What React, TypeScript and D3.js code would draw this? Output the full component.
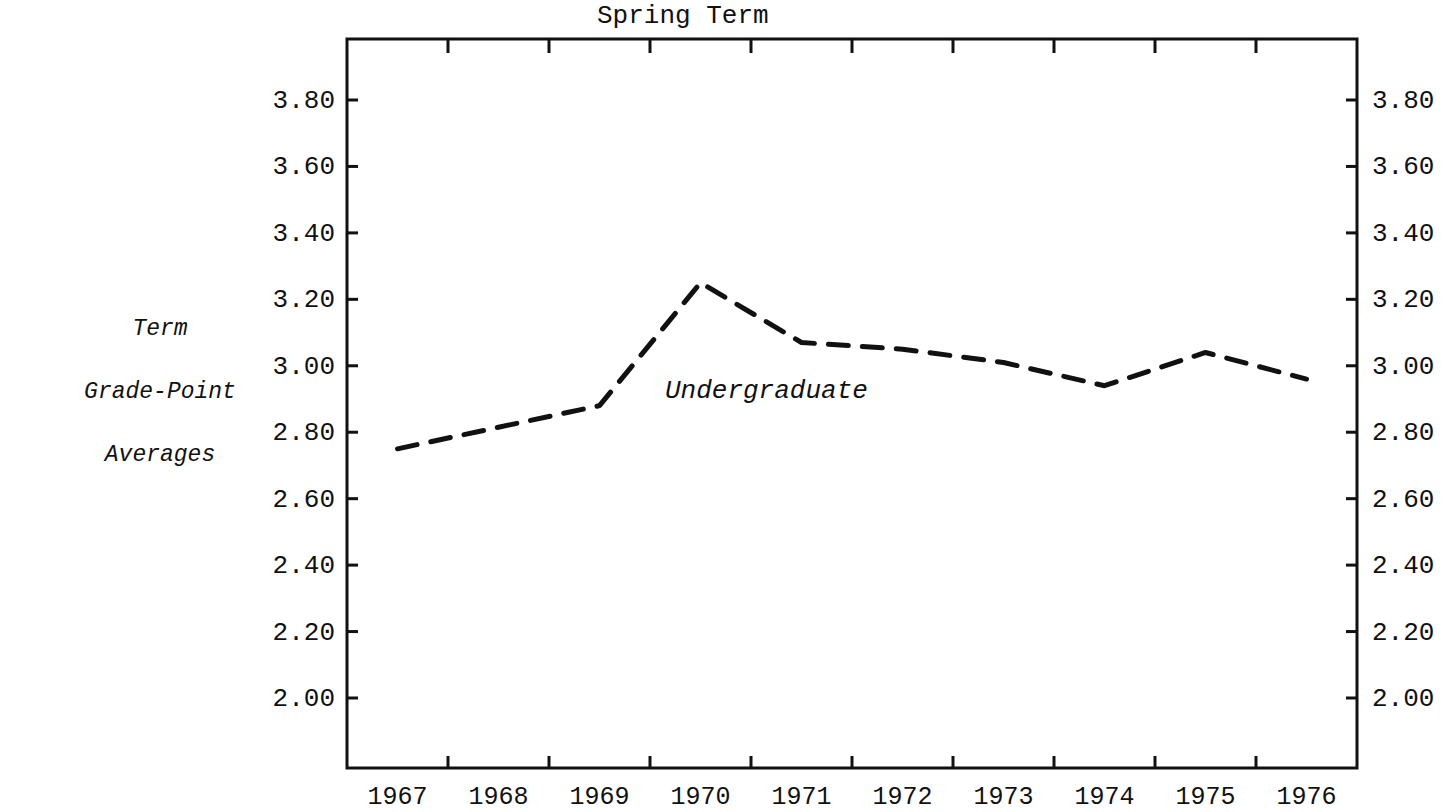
import React from 'react';
import * as d3 from 'd3';

// Spring term undergraduate grade-point averages, 1967-1976
const years = ['1967', '1968', '1969', '1970', '1971', '1972', '1973', '1974', '1975', '1976'];
const gpa = [2.75, 2.815, 2.88, 3.25, 3.07, 3.05, 3.01, 2.94, 3.04, 2.96];
const yTicks = [2.0, 2.2, 2.4, 2.6, 2.8, 3.0, 3.2, 3.4, 3.6, 3.8];
const title = 'Spring Term';
const yTitle = ['Term', 'Grade-Point', 'Averages'];
const seriesLabel = 'Undergraduate';

const W = 1455;
const H = 812;
const frame = { left: 347, right: 1357, top: 39, bottom: 768 };
const ink = '#111';
const mono = '"Liberation Mono", "Courier New", monospace';

export default function App() {
  const x = d3.scaleBand().domain(years).range([frame.left, frame.right]).padding(0);
  const y = d3.scaleLinear().domain([2.0, 3.8]).range([698, 100]);

  const line = d3
    .line<number>()
    .x((d, i) => (x(years[i]) as number) + x.bandwidth() / 2)
    .y(d => y(d));

  // ticks sit on the borders between the year bands
  const xTicks = years.slice(1).map(yr => x(yr) as number);

  return (
    <svg
      width={W}
      height={H}
      viewBox={`0 0 ${W} ${H}`}
      style={{ position: 'absolute', left: 0, top: 0, background: '#fff' }}
    >
      <rect x={0} y={0} width={W} height={H} fill="#fff" />

      <text x={597} y={23} fontFamily={mono} fontSize={26} fill={ink}>
        {title}
      </text>

      {/* frame */}
      <rect
        x={frame.left}
        y={frame.top}
        width={frame.right - frame.left}
        height={frame.bottom - frame.top}
        fill="none"
        stroke={ink}
        strokeWidth={3}
      />

      {xTicks.map((tx, i) => (
        <g key={i} stroke={ink} strokeWidth={3}>
          <line x1={tx} x2={tx} y1={frame.top} y2={frame.top + 14} />
          <line x1={tx} x2={tx} y1={frame.bottom} y2={frame.bottom - 12} />
        </g>
      ))}

      {years.map(yr => (
        <text
          key={yr}
          x={(x(yr) as number) + x.bandwidth() / 2}
          y={804}
          textAnchor="middle"
          fontFamily={mono}
          fontSize={25}
          fill={ink}
        >
          {yr}
        </text>
      ))}

      {yTicks.map(t => (
        <g key={t}>
          <line x1={frame.left} x2={frame.left + 11} y1={y(t)} y2={y(t)} stroke={ink} strokeWidth={3} />
          <line x1={frame.right} x2={frame.right - 11} y1={y(t)} y2={y(t)} stroke={ink} strokeWidth={3} />
          <text x={335} y={y(t) + 8} textAnchor="end" fontFamily={mono} fontSize={26} fill={ink}>
            {t.toFixed(2)}
          </text>
          <text x={1372} y={y(t) + 8} textAnchor="start" fontFamily={mono} fontSize={26} fill={ink}>
            {t.toFixed(2)}
          </text>
        </g>
      ))}

      {yTitle.map((s, i) => (
        <text
          key={s}
          x={160}
          y={335 + i * 63}
          textAnchor="middle"
          fontFamily={mono}
          fontStyle="italic"
          fontSize={23}
          fill={ink}
        >
          {s}
        </text>
      ))}

      <path
        d={line(gpa) || ''}
        fill="none"
        stroke={ink}
        strokeWidth={5}
        strokeDasharray="20 14"
        strokeLinecap="round"
        strokeLinejoin="round"
      />

      <text x={665} y={398} fontFamily={mono} fontStyle="italic" fontSize={26} fill={ink}>
        {seriesLabel}
      </text>
    </svg>
  );
}
